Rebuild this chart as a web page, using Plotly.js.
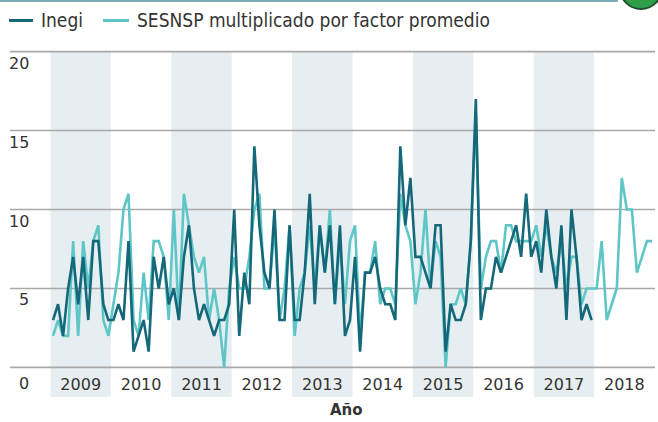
<!DOCTYPE html>
<html>
<head>
<meta charset="utf-8">
<script src="https://cdn.plot.ly/plotly-3.0.1.min.js"></script>
<style>
  html, body { margin: 0; padding: 0; background: #ffffff; }
  #chart { width: 658px; height: 422px; }
</style>
</head>
<body>
<div id="chart"></div>
<script>
// ---- data (monthly, starting January 2009) ----
const startYear = 2009;
const years = [2009, 2010, 2011, 2012, 2013, 2014, 2015, 2016, 2017, 2018];
const shadedYears = [2009, 2011, 2013, 2015, 2017];
const yTicks = [0, 5, 10, 15, 20];

const inegi = [
  3, 4, 2, 5, 7, 4, 7, 3, 8, 8, 4, 3,      // 2009
  3, 4, 3, 8, 1, 2, 3, 1, 7, 5, 7, 4,      // 2010
  5, 3, 7, 9, 5, 3, 4, 3, 2, 3, 3, 4,      // 2011
  10, 2, 6, 4, 14, 9, 6, 5, 10, 3, 3, 9,   // 2012
  3, 3, 6, 11, 4, 9, 6, 9, 4, 9, 2, 3,     // 2013
  7, 1, 6, 6, 7, 5, 4, 4, 3, 14, 9, 12,    // 2014
  7, 7, 6, 5, 9, 9, 1, 4, 3, 3, 4, 8,      // 2015
  17, 3, 5, 5, 7, 6, 7, 8, 9, 7, 11, 7,    // 2016
  8, 6, 10, 7, 5, 9, 3, 10, 7, 3, 4, 3     // 2017
];

const sesnsp = [
  2, 3, 2, 2, 8, 2, 8, 5, 8, 9, 3, 2,      // 2009
  4, 6, 10, 11, 3, 2, 6, 3, 8, 8, 7, 3,    // 2010
  10, 3, 11, 9, 7, 6, 7, 3, 5, 3, 0, 5,    // 2011
  7, 5, 5, 7, 10, 11, 5, 5, 9, 3, 5, 9,    // 2012
  2, 5, 6, 9, 5, 9, 6, 10, 4, 8, 4, 8,     // 2013
  9, 2, 6, 6, 8, 4, 5, 5, 4, 11, 9, 8,     // 2014
  4, 6, 10, 5, 8, 7, 0, 4, 4, 5, 4, 8,     // 2015
  16, 5, 7, 8, 8, 6, 9, 9, 8, 8, 8, 8,     // 2016
  9, 7, 9, 7, 6, 8, 5, 7, 7, 4, 5, 5,      // 2017
  5, 8, 3, 4, 5, 12, 10, 10, 6, 7, 8, 8    // 2018
];

// month positions (mid-month, in fractional years)
const monthX = (arr) => arr.map((_, i) => startYear + (i + 0.5) / 12);

// ---- styling ----
const DARK = '#15687a';
const LIGHT = '#5ec6c6';
const BAND = '#e7eef1';
const GRID = '#a9a9a9';
const TEXT = '#333333';

const W = 658, H = 422;
const M = { l: 10, r: 3, t: 50, b: 53 };
const plotW = W - M.l - M.r, plotH = H - M.t - M.b;
const px2paperX = (px) => (px - M.l) / plotW;
const px2paperY = (py) => (H - M.b - py) / plotH;

const traces = [
  {
    x: monthX(sesnsp), y: sesnsp, type: 'scatter', mode: 'lines',
    name: 'SESNSP multiplicado por factor promedio',
    line: { color: LIGHT, width: 2.6, shape: 'linear' },
    hoverinfo: 'x+y'
  },
  {
    x: monthX(inegi), y: inegi, type: 'scatter', mode: 'lines',
    name: 'Inegi',
    line: { color: DARK, width: 2.6, shape: 'linear' },
    hoverinfo: 'x+y'
  }
];

const shapes = [];
shadedYears.forEach(yr => {
  shapes.push({
    type: 'rect', xref: 'x', yref: 'paper',
    x0: yr, x1: yr + 1, y0: px2paperY(397), y1: px2paperY(52),
    fillcolor: BAND, line: { width: 0 }, layer: 'below'
  });
});
// horizontal gridlines
yTicks.forEach(v => {
  shapes.push({
    type: 'line', xref: 'paper', yref: 'y',
    x0: 0, x1: 1, y0: v, y1: v,
    line: { color: GRID, width: 1.6 }, layer: 'below'
  });
});
// top rule + decorative badge
shapes.push({
  type: 'line', xref: 'paper', yref: 'paper',
  x0: px2paperX(0), x1: px2paperX(618), y0: px2paperY(1), y1: px2paperY(1),
  line: { color: '#7aaeb6', width: 2 }
});
shapes.push({
  type: 'circle', xref: 'paper', yref: 'paper',
  x0: px2paperX(620), x1: px2paperX(662), y0: px2paperY(9), y1: px2paperY(-33),
  fillcolor: '#2f9e48', line: { color: '#1f4f2c', width: 2 }
});
// legend line samples
shapes.push({
  type: 'line', xref: 'paper', yref: 'paper',
  x0: px2paperX(9), x1: px2paperX(33), y0: px2paperY(20.5), y1: px2paperY(20.5),
  line: { color: DARK, width: 3 }
});
shapes.push({
  type: 'line', xref: 'paper', yref: 'paper',
  x0: px2paperX(103), x1: px2paperX(129), y0: px2paperY(20.5), y1: px2paperY(20.5),
  line: { color: LIGHT, width: 3 }
});

const annotations = [];
const legFont = { family: '"DejaVu Sans Condensed", "DejaVu Sans", sans-serif', size: 19, color: TEXT };
annotations.push({
  xref: 'paper', yref: 'paper', x: px2paperX(39), y: px2paperY(20),
  xanchor: 'left', yanchor: 'middle', showarrow: false,
  text: traces[1].name, font: legFont
});
annotations.push({
  xref: 'paper', yref: 'paper', x: px2paperX(135), y: px2paperY(20),
  xanchor: 'left', yanchor: 'middle', showarrow: false,
  text: traces[0].name, font: legFont
});
// y tick labels (right-aligned, below their gridlines)
yTicks.forEach(v => {
  annotations.push({
    xref: 'paper', yref: 'y', x: px2paperX(31), y: v,
    xanchor: 'right', yanchor: 'top', yshift: v === 0 ? -5 : 0, showarrow: false,
    text: String(v), font: { family: 'DejaVu Sans', size: 16, color: TEXT }
  });
});
// axis title
annotations.push({
  xref: 'paper', yref: 'paper', x: px2paperX(346), y: px2paperY(410),
  xanchor: 'center', yanchor: 'middle', showarrow: false,
  text: '<b>Año</b>', font: { family: 'DejaVu Sans', size: 15, color: TEXT }
});

const layout = {
  width: W, height: H,
  margin: M,
  paper_bgcolor: '#ffffff',
  plot_bgcolor: 'rgba(0,0,0,0)',
  showlegend: false,
  xaxis: {
    type: 'linear',
    range: [startYear - 0.6705, startYear + 10.008],
    tickvals: years.map(y => y + 0.5),
    ticktext: years.map(String),
    ticks: '', showgrid: false, zeroline: false, showline: false,
    tickfont: { family: 'DejaVu Sans', size: 16, color: TEXT },
    ticklabelstandoff: 4,
    fixedrange: true
  },
  yaxis: {
    range: [-0.1, 20.1],
    tickvals: yTicks,
    showticklabels: false,
    ticks: '',
    showgrid: false,
    zeroline: false, showline: false,
    fixedrange: true
  },
  shapes: shapes,
  annotations: annotations
};

Plotly.newPlot('chart', traces, layout, { displayModeBar: false, staticPlot: true });
</script>
</body>
</html>
